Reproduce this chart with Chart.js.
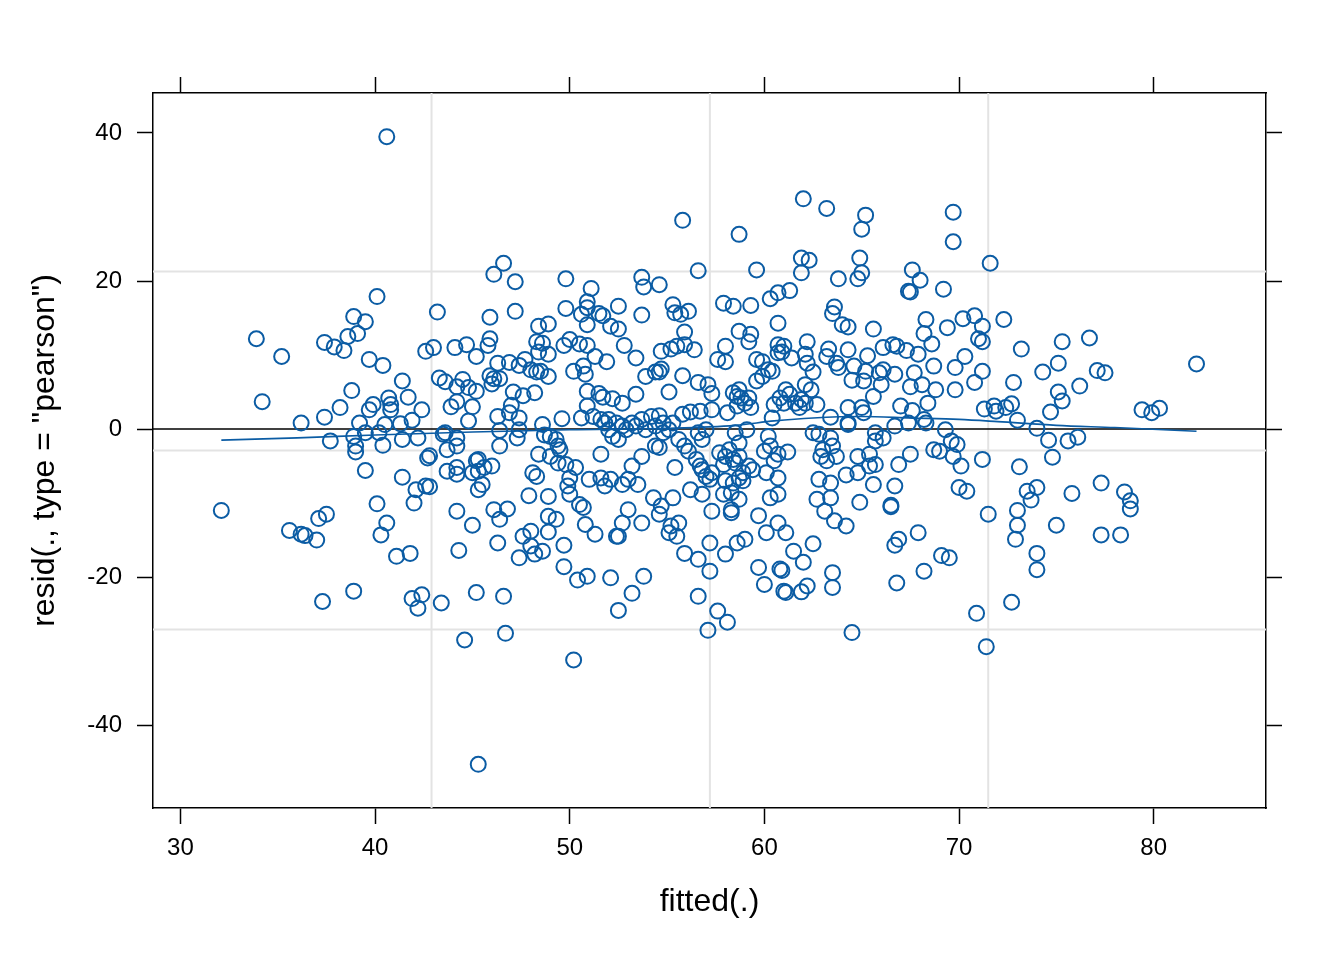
<!DOCTYPE html>
<html>
<head>
<meta charset="utf-8">
<script src="https://cdn.jsdelivr.net/npm/chart.js@4.4.1/dist/chart.umd.min.js"></script>
<style>
    html, body { margin: 0; padding: 0; background: #fff; }
    #wrap { width: 1344px; height: 960px; }
</style>
</head>
<body>
<div id="wrap"><canvas id="resid_plot" width="1344" height="960"></canvas></div>
<script>
// fitted values (x) and pearson residuals (y)
const fitted = [
    32.1, 33.9, 35.2, 34.2, 36.2, 35.6, 36.2, 36.4, 37.0, 37.1,
    37.5, 37.3, 38.9, 40.6, 37.4, 37.9, 38.4, 38.6, 38.9, 39.5,
    39.1, 40.1, 39.7, 40.4, 41.4, 38.8, 38.2, 37.4, 39.9, 39.7,
    40.7, 40.8, 40.8, 41.7, 42.4, 41.9, 41.3, 40.5, 39.2, 40.2,
    39.5, 38.9, 37.7, 39.0, 40.4, 41.4, 42.2, 39.0, 39.5, 41.4,
    40.1, 40.6, 40.3, 41.1, 41.8, 41.9, 42.4, 42.2, 43.4, 42.7,
    42.8, 43.7, 44.2, 44.2, 43.5, 43.7, 44.2, 44.2, 45.2, 45.0,
    45.3, 42.1, 42.6, 42.8, 42.0, 44.2, 45.0, 44.3, 45.2, 45.3,
    44.6, 43.2, 42.6, 43.0, 44.1, 44.7, 45.2, 43.3, 43.6, 44.5,
    44.2, 44.8, 45.2, 43.9, 44.2, 45.0, 44.8, 43.6, 55.8, 58.7,
    56.6, 46.6, 46.1, 47.2, 49.8, 51.1, 53.7, 53.8, 54.6, 50.9,
    50.9, 49.8, 50.6, 51.5, 51.7, 52.5, 53.7, 47.2, 45.9, 50.9,
    52.1, 52.5, 55.3, 55.4, 55.7, 56.1, 55.9, 48.4, 48.9, 45.9,
    45.8, 48.3, 48.6, 48.4, 48.9, 49.7, 50.0, 50.5, 50.9, 51.3,
    51.9, 52.8, 53.4, 46.3, 46.9, 47.4, 47.7, 45.9, 46.1, 46.4,
    46.0, 48.0, 48.3, 48.5, 48.9, 50.2, 50.7, 50.8, 53.9, 54.4,
    54.7, 54.6, 54.7, 55.2, 55.5, 55.9, 56.4, 55.8, 56.6, 57.1,
    57.3, 55.1, 53.4, 50.9, 51.5, 51.7, 52.2, 52.7, 50.9, 47.1,
    47.6, 48.2, 47.0, 46.9, 46.3, 47.4, 48.6, 49.6, 50.6, 51.2,
    51.6, 51.8, 52.0, 52.4, 52.7, 53.2, 53.7, 54.2, 54.6, 54.8,
    55.3, 55.8, 56.2, 56.7, 57.3, 58.1, 46.4, 47.4, 48.7, 49.3,
    57.9, 58.4, 58.0, 57.6, 58.0, 58.4, 58.6, 58.7, 47.3, 46.4,
    49.0, 49.4, 49.5, 49.0, 48.4, 45.3, 45.6, 46.0, 45.5, 45.3,
    48.1, 48.3, 47.9, 48.9, 49.4, 49.8, 50.3, 50.0, 49.9, 50.0,
    50.5, 50.7, 50.8, 51.3, 51.6, 51.0, 51.6, 51.8, 52.1, 52.7,
    53.0, 53.5, 53.2, 53.7, 52.5, 52.2, 52.0, 52.9, 53.4, 53.9,
    54.4, 54.8, 55.1, 55.6, 54.6, 54.4, 55.4, 54.3, 54.7, 54.6,
    55.3, 53.0, 53.7, 52.7, 52.5, 52.4, 55.2, 55.6, 55.1, 55.5,
    55.9, 56.6, 57.2, 48.9, 49.3, 48.9, 47.6, 48.0, 48.0, 48.2,
    48.6, 47.4, 46.1, 46.4, 46.8, 46.3, 49.7, 49.7, 50.4, 50.9,
    52.1, 53.8, 53.2, 52.5, 46.6, 46.7, 50.2, 57.2, 58.0, 58.6,
    56.6, 57.6, 58.1, 57.1, 57.3, 58.3, 56.2, 56.8, 56.5, 56.7,
    56.8, 57.0, 57.2, 57.3, 57.7, 58.0, 58.4, 57.9, 56.6, 56.8,
    57.0, 55.9, 56.1, 58.0, 58.4, 57.9, 62.0, 63.2, 65.2, 65.0,
    69.7, 69.7, 71.6, 59.6, 61.9, 62.3, 61.9, 63.8, 64.9, 65.0,
    64.8, 67.6, 68.0, 67.4, 67.5, 69.2, 61.3, 60.7, 60.3, 59.3,
    63.6, 63.5, 64.0, 64.3, 65.6, 60.7, 59.3, 59.2, 60.7, 61.0,
    60.7, 60.9, 62.2, 63.3, 63.2, 64.3, 62.1, 62.2, 62.5, 59.6,
    59.9, 60.2, 60.4, 59.9, 59.6, 61.4, 63.7, 63.8, 64.6, 65.2,
    65.1, 65.9, 66.1, 66.7, 66.0, 64.5, 65.3, 66.1, 66.6, 66.8,
    67.3, 67.9, 68.3, 68.2, 68.6, 69.4, 70.2, 70.8, 71.2, 71.0,
    71.2, 70.3, 69.8, 71.2, 70.8, 72.3, 68.7, 67.7, 67.5, 68.1,
    68.8, 69.8, 68.4, 65.6, 67.0, 67.6, 68.3, 68.2, 69.3, 71.3,
    71.8, 71.9, 66.7, 64.3, 65.0, 65.1, 64.3, 63.4, 62.7, 62.1,
    61.8, 61.9, 61.6, 62.1, 62.4, 61.1, 60.8, 61.3, 61.0, 60.5,
    58.7, 59.0, 58.6, 59.3, 59.2, 58.8, 60.4, 60.2, 59.1, 58.5,
    58.7, 58.2, 58.7, 58.5, 59.2, 59.4, 58.9, 58.7, 58.9, 58.3,
    58.7, 58.3, 60.0, 60.3, 60.7, 61.2, 60.5, 60.1, 60.7, 60.3,
    60.7, 59.7, 60.7, 60.1, 61.1, 59.0, 62.5, 61.5, 62.0, 59.7,
    60.8, 60.9, 60.0, 61.0, 61.1, 61.9, 62.2, 63.5, 63.5, 64.5,
    70.9, 71.4, 71.5, 71.2, 70.0, 70.4, 69.7, 70.1, 69.9, 69.6,
    68.7, 69.0, 67.5, 66.9, 66.7, 66.5, 66.5, 67.9, 66.9, 66.7,
    69.1, 69.5, 68.2, 66.8, 66.1, 65.7, 65.7, 65.4, 64.8, 65.4,
    65.7, 65.6, 64.9, 64.8, 64.2, 64.3, 63.4, 63.5, 63.0, 62.9,
    63.2, 63.7, 63.4, 62.8, 62.7, 63.4, 63.1, 63.6, 64.2, 62.5,
    62.8, 73.2, 75.3, 76.7, 75.1, 74.3, 72.8, 77.1, 77.5, 82.2,
    75.1, 75.3, 76.2, 74.7, 72.4, 72.7, 79.4, 79.9, 80.3, 73.0,
    74.0, 74.6, 75.6, 76.1, 74.8, 73.1, 77.3, 75.8, 73.5, 74.0,
    73.7, 78.5, 78.8, 78.8, 73.0, 73.0, 72.9, 75.0, 77.3, 78.3,
    74.0, 74.0, 72.7, 67.4
];
const resid = [
    -11.0, 12.2, 9.8, 3.7, 0.8, -13.7, -14.2, -14.4, -15.0, -12.1,
    -11.5, -23.3, -21.9, 39.5, 11.7, 11.1, 10.6, 12.5, 15.2, 14.5,
    12.9, 17.9, 9.4, 8.6, 6.5, 5.2, 2.9, 1.6, 3.3, 2.6,
    4.2, 3.3, 2.6, 4.3, 2.6, 1.2, 0.7, 0.6, 0.8, -0.5,
    -0.5, -1.0, -1.6, -2.3, -2.2, -1.4, -1.2, -3.1, -5.6, -6.5,
    -10.1, -12.7, -14.3, -17.2, -16.8, -22.9, -22.4, -24.2, -23.5, -3.9,
    -3.6, -2.8, -2.3, -1.2, -0.7, -5.7, -5.2, -6.1, -4.3, -5.9,
    -5.7, -8.2, -7.7, -7.8, -10.0, -11.1, -13.0, -16.4, -22.1, -45.3,
    -28.5, 15.8, 10.5, 11.0, 11.0, 11.4, 9.8, 6.9, 6.4, 6.7,
    5.7, 5.6, 5.1, 3.0, 3.7, 3.0, 1.1, -0.5, 28.2, 26.3,
    21.4, 22.4, 20.9, 19.9, 20.3, 19.0, 20.5, 19.2, 19.5, 17.2,
    16.4, 16.3, 15.5, 15.6, 15.3, 16.6, 15.4, 15.9, 15.1, 14.1,
    13.9, 13.5, 16.8, 15.7, 15.5, 15.9, 13.1, 13.9, 14.2, 12.2,
    11.3, 11.8, 11.6, 10.4, 10.1, 11.3, 12.1, 11.5, 11.3, 9.8,
    9.1, 11.3, 9.6, 8.9, 9.0, 8.6, 9.4, 7.2, 6.8, 6.8,
    6.1, 8.0, 7.7, 7.8, 7.1, 7.8, 8.5, 7.4, 7.1, 7.7,
    8.1, 7.7, 10.5, 10.8, 11.2, 11.4, 10.7, 7.2, 6.3, 6.0,
    4.8, 5.0, 4.7, 5.1, 4.8, 4.3, 4.1, 3.5, 3.1, 5.0,
    4.5, 4.9, 3.2, 2.2, 1.7, 1.5, 0.6, 1.4, 1.5, 1.7,
    1.3, 0.8, 1.3, 0.8, 0.4, 0.8, 1.3, 1.7, 1.8, 0.8,
    0.8, 2.0, 2.3, 2.4, 2.6, 2.2, -0.2, -0.1, -0.8, -1.4,
    17.0, 16.6, 11.2, 9.4, 9.1, 4.9, 4.4, 13.2, -1.2, -2.3,
    -1.0, -2.3, -2.8, -3.7, -3.4, -4.1, -5.2, -5.0, -7.5, -8.2,
    -5.9, -6.4, -9.0, -9.1, -4.6, -4.8, -5.2, -6.6, -7.7, -8.8,
    -10.2, -10.6, -12.9, -14.2, -3.4, -6.8, -6.6, -7.7, -6.8, -7.5,
    -6.8, -7.5, -5.0, -3.7, -1.4, -1.0, -0.1, -0.1, 0.4, -0.1,
    0.4, -0.5, -0.1, -1.4, -2.5, -2.3, -5.2, -9.3, -10.4, -11.5,
    -9.3, -10.9, -12.7, -12.7, -14.5, -14.5, -13.1, -12.7, -14.0, -14.5,
    -16.8, -17.6, -19.2, -11.8, -12.2, -13.9, -14.5, -13.8, -15.8, -16.9,
    -16.5, -17.4, -10.9, -12.2, -10.8, -15.4, -15.7, -18.6, -20.4, -19.9,
    -20.1, -19.9, -22.2, -24.5, -22.6, -27.6, -31.2, -15.4, -16.9, -15.4,
    -22.6, -24.6, -26.1, -27.2, -11.1, -11.3, -8.2, -8.8, -4.1, -5.0,
    -5.5, -6.4, -6.8, -5.9, -3.2, -3.7, -4.1, -4.8, -0.5, -1.4,
    -0.1, -2.3, -3.0, -7.0, -7.3, -8.8, 31.1, 29.8, 28.9, 27.0,
    29.3, 25.3, 22.4, 21.5, 23.1, 22.8, 21.1, 20.3, 23.1, 21.1,
    20.3, 21.5, 20.1, 18.6, 18.5, 18.9, 18.7, 18.4, 17.6, 16.7,
    16.5, 15.6, 14.1, 13.8, 13.5, 14.3, 12.8, 11.8, 11.4, 11.2,
    10.3, 10.4, 11.8, 10.8, 9.8, 10.7, 10.1, 8.9, 7.7, 9.4,
    9.1, 8.0, 7.8, 7.1, 6.5, 9.6, 8.9, 8.3, 8.5, 7.8,
    6.5, 7.6, 8.0, 7.4, 6.0, 6.6, 9.9, 11.0, 11.4, 11.2,
    10.6, 10.1, 14.8, 12.9, 11.5, 13.7, 14.9, 15.3, 13.9, 12.2,
    11.8, 9.8, 8.3, 7.8, 6.3, 14.8, 8.5, 7.6, 5.7, 6.0,
    5.3, 5.3, 3.5, 4.4, 3.1, 2.5, 0.8, 1.3, -0.1, 2.7,
    3.1, 2.4, 0.4, 2.9, 2.9, 2.2, 0.8, 1.6, 3.3, 3.5,
    2.9, 4.0, 3.5, 6.0, 5.3, 5.3, 4.2, 4.7, 3.5, 3.3,
    5.3, 3.5, 3.1, 2.9, 4.2, 4.2, 1.5, -1.0, -0.1, -0.5,
    -1.9, -2.8, -3.7, -4.6, -5.0, -5.5, -5.9, -6.6, -7.0, -8.6,
    -9.5, -10.9, -3.0, -2.3, -3.4, -3.1, -4.3, -5.9, -6.6, -9.3,
    -8.8, -11.7, -12.7, -14.0, -14.0, -14.9, -15.5, -16.5, -18.0, -18.7,
    -18.9, -19.1, -21.0, -21.9, -22.1, -22.0, -21.2, -19.4, -21.4, -27.5,
    -24.9, -29.4, -11.5, -4.1, -7.9, -8.4, -3.7, -5.0, -2.1, -1.6,
    -2.8, -3.0, -3.4, -4.8, -7.7, -10.5, -10.3, -14.0, -14.9, -15.7,
    -17.1, -17.4, -19.2, -20.8, -1.2, -0.5, -1.6, -3.4, -3.7, -5.0,
    -4.8, -7.5, -9.9, -5.9, -6.2, 0.6, -1.2, -2.3, -2.8, -3.7,
    -4.3, -3.7, -7.3, -6.8, -9.5, -9.3, -11.1, -12.4, -13.1, -0.5,
    -0.7, 10.8, 11.8, 12.3, 8.9, 7.7, 6.3, 7.9, 7.6, 8.8,
    5.0, 3.8, 5.8, 2.3, 2.9, 3.4, 2.6, 2.2, 2.8, 1.2,
    0.1, -1.5, -1.6, -1.1, -3.8, -5.1, -7.3, -8.7, -8.4, -7.9,
    -9.6, -8.5, -9.7, -10.8, -11.0, -13.0, -14.9, -13.0, -14.3, -14.3,
    -16.8, -19.0, -23.4, 0.8
];

// smoother through the residuals
const smoothX = [32.1, 36, 40, 45, 50, 55, 58.5, 60.5, 62.5, 65, 67.5, 70, 72, 75, 78, 82.2];
const smoothY = [-1.5, -1.2, -0.8, -0.4, -0.1, 0.1, 0.5, 1.1, 1.5, 1.7, 1.5, 1.3, 1.0, 0.5, 0.2, -0.3];

// axes
const xTicks = [30, 40, 50, 60, 70, 80];
const yTicks = [-40, -20, 0, 20, 40];
const xRange = [28.59, 85.77];
const yRange = [-51.2, 45.4];

// light reference grid + zero line
const refX = [42.9, 57.2, 71.5];
const refY = [21.3, -2.9, -27.1];
const zeroLine = 0;

const blue = '#0b5ca4';
Chart.defaults.font.family = "'Liberation Sans', Arial, sans-serif";
Chart.defaults.color = '#000';

const refLines = {
    id: 'refLines',
    beforeDatasetsDraw(chart) {
        const { ctx, chartArea: a, scales: { x, y } } = chart;
        ctx.save();
        ctx.strokeStyle = '#e3e3e3';
        ctx.lineWidth = 2;
        refX.forEach(v => {
            const p = x.getPixelForValue(v);
            ctx.beginPath(); ctx.moveTo(p, a.top); ctx.lineTo(p, a.bottom); ctx.stroke();
        });
        refY.forEach(v => {
            const p = y.getPixelForValue(v);
            ctx.beginPath(); ctx.moveTo(a.left, p); ctx.lineTo(a.right, p); ctx.stroke();
        });
        ctx.strokeStyle = '#000';
        ctx.lineWidth = 1.6;
        const z = y.getPixelForValue(zeroLine);
        ctx.beginPath(); ctx.moveTo(a.left, z); ctx.lineTo(a.right, z); ctx.stroke();
        ctx.restore();
    }
};

function axisBase(ticksArr, range) {
    return {
        type: 'linear',
        min: range[0],
        max: range[1],
        afterBuildTicks: s => { s.ticks = ticksArr.map(v => ({ value: v })); },
        grid: { drawOnChartArea: false, drawTicks: true, tickLength: 16, tickWidth: 1.5, tickColor: '#000' },
        border: { display: true, color: '#000', width: 1.5 }
    };
}

const ctx = document.getElementById('resid_plot').getContext('2d');
new Chart(ctx, {
    type: 'scatter',
    data: {
        datasets: [{
            label: 'resid',
            data: fitted.map((v, i) => ({ x: v, y: resid[i] })),
            pointStyle: 'circle',
            pointRadius: 7.5,
            borderWidth: 2,
            borderColor: blue,
            backgroundColor: 'rgba(0,0,0,0)'
        }, {
            label: 'smooth',
            data: smoothX.map((v, i) => ({ x: v, y: smoothY[i] })),
            showLine: true,
            pointRadius: 0,
            borderColor: blue,
            borderWidth: 1.6,
            cubicInterpolationMode: 'monotone'
        }]
    },
    options: {
        responsive: false,
        animation: false,
        devicePixelRatio: 1,
        layout: { padding: 0 },
        plugins: { legend: { display: false }, tooltip: { enabled: false } },
        scales: {
            x: Object.assign(axisBase(xTicks, xRange), {
                position: 'bottom',
                afterFit: s => { s.height = 152; },
                ticks: { font: { size: 24 }, color: '#000', padding: 10, maxRotation: 0, autoSkip: false },
                title: { display: true, text: 'fitted(.)', font: { size: 32 }, color: '#000', padding: { top: 0, bottom: 39 } }
            }),
            x2: Object.assign(axisBase(xTicks, xRange), {
                axis: 'x',
                position: 'top',
                afterFit: s => { s.height = 93; },
                ticks: { display: false }
            }),
            y: Object.assign(axisBase(yTicks, yRange), {
                position: 'left',
                afterFit: s => { s.width = 153; },
                ticks: { font: { size: 24 }, color: '#000', padding: 15, autoSkip: false },
                title: { display: true, text: 'resid(., type = "pearson")', font: { size: 32 }, color: '#000', padding: { top: 26, bottom: 0 } }
            }),
            y2: Object.assign(axisBase(yTicks, yRange), {
                axis: 'y',
                position: 'right',
                afterFit: s => { s.width = 78; },
                ticks: { display: false }
            })
        }
    },
    plugins: [refLines]
});
</script>
</body>
</html>
